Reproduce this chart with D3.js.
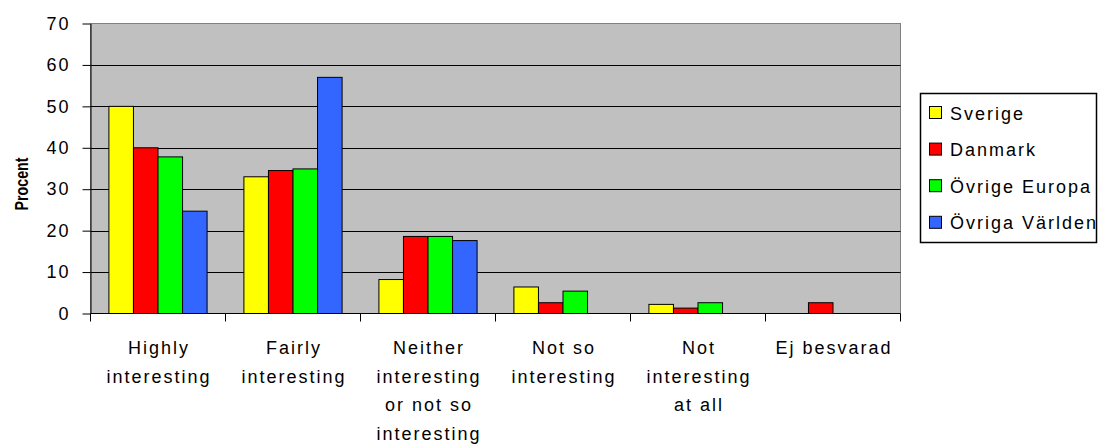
<!DOCTYPE html>
<html>
<head>
<meta charset="utf-8">
<script src="https://cdn.jsdelivr.net/npm/d3@7"></script>
<style>
  body { margin: 0; background: #fff; }
  svg { display: block; font-family: "Liberation Sans", Arial, sans-serif; }
</style>
</head>
<body>
<svg id="chart"></svg>
<script>
// chart data
const categories = [
  ['Highly', 'interesting'],
  ['Fairly', 'interesting'],
  ['Neither', 'interesting', 'or not so', 'interesting'],
  ['Not so', 'interesting'],
  ['Not', 'interesting', 'at all'],
  ['Ej besvarad']
];
const seriesNames = ['Sverige', 'Danmark', 'Övrige Europa', 'Övriga Världen'];
const seriesColors = ['#ffff00', '#ff0000', '#00ff00', '#3366ff'];
const sverige = [50, 33, 8.2, 6.4, 2.2, 0];
const danmark = [40, 34.5, 18.6, 2.6, 1.3, 2.6];
const ovrigeEuropa = [37.8, 34.9, 18.6, 5.4, 2.6, 0];
const ovrigaVarlden = [24.7, 57, 17.6, 0, 0, 0];
const yTicks = [0, 10, 20, 30, 40, 50, 60, 70];

const seriesValues = [sverige, danmark, ovrigeEuropa, ovrigaVarlden];

const width = 1098, height = 445;
const plot = { left: 90.5, right: 900.5, top: 23.5, bottom: 313.5 };

const svg = d3.select('#chart').attr('width', width).attr('height', height);

const x = d3.scaleBand()
  .domain(d3.range(categories.length))
  .range([plot.left, plot.right])
  .padding(0);

// gap width 150% -> 0.75 bar on each side
const xs = d3.scaleBand()
  .domain(d3.range(seriesNames.length))
  .range([0, x.bandwidth()])
  .paddingInner(0)
  .paddingOuter(0.75);

const y = d3.scaleLinear().domain([0, 70]).range([plot.bottom, plot.top]);

// plot background
svg.append('rect')
  .attr('x', plot.left).attr('y', plot.top)
  .attr('width', plot.right - plot.left).attr('height', plot.bottom - plot.top)
  .attr('fill', '#c0c0c0')
  .attr('stroke', '#808080')
  .attr('stroke-width', 1);

// gridlines
svg.append('g')
  .selectAll('line')
  .data(yTicks.filter(d => d > 0 && d < 70))
  .enter().append('line')
  .attr('x1', plot.left).attr('x2', plot.right)
  .attr('y1', d => Math.round(y(d)) + 0.5).attr('y2', d => Math.round(y(d)) + 0.5)
  .attr('stroke', '#000');

// bars
const groups = svg.append('g')
  .selectAll('g')
  .data(seriesValues)
  .enter().append('g')
  .attr('fill', (d, i) => seriesColors[i]);

groups.each(function (vals, si) {
  d3.select(this).selectAll('rect')
    .data(vals.map((v, ci) => ({ v, ci })).filter(d => d.v > 0))
    .enter().append('rect')
    .attr('x', d => x(d.ci) + xs(si))
    .attr('y', d => y(d.v))
    .attr('width', xs.bandwidth())
    .attr('height', d => y(0) - y(d.v))
    .attr('stroke', '#000')
    .attr('stroke-width', 1);
});

// y axis
const yAxis = svg.append('g')
  .attr('transform', `translate(${plot.left},0)`)
  .call(d3.axisLeft(y).tickValues(yTicks).tickSize(8).tickPadding(12).tickSizeOuter(0));
yAxis.select('.domain').attr('stroke', '#000');
yAxis.selectAll('text')
  .attr('font-size', 18)
  .attr('letter-spacing', 2)
  .attr('fill', '#000')
  .attr('font-family', '"Liberation Sans", Arial, sans-serif');

// x axis
const xTickPos = d3.range(categories.length + 1).map(i => plot.left + i * x.step());
svg.append('line')
  .attr('x1', plot.left).attr('x2', plot.right)
  .attr('y1', plot.bottom).attr('y2', plot.bottom)
  .attr('stroke', '#000');
svg.append('g')
  .selectAll('line')
  .data(xTickPos)
  .enter().append('line')
  .attr('x1', d => d).attr('x2', d => d)
  .attr('y1', plot.bottom).attr('y2', plot.bottom + 8)
  .attr('stroke', '#000');

// category labels
const labels = svg.append('g')
  .selectAll('text')
  .data(categories)
  .enter().append('text')
  .attr('text-anchor', 'middle')
  .attr('font-size', 18)
  .attr('letter-spacing', 2)
  .attr('fill', '#000');
labels.each(function (lines, ci) {
  d3.select(this).selectAll('tspan')
    .data(lines)
    .enter().append('tspan')
    .attr('x', x(ci) + x.bandwidth() / 2 + 1)
    .attr('y', (d, i) => 354 + i * 28.7)
    .text(d => d);
});

// y axis title
svg.append('text')
  .attr('transform', 'translate(28,184) rotate(-90)')
  .attr('text-anchor', 'middle')
  .attr('font-size', 19)
  .attr('font-weight', 'bold')
  .attr('textLength', 53)
  .attr('lengthAdjust', 'spacingAndGlyphs')
  .text('Procent');

// legend
const legend = svg.append('g');
legend.append('rect')
  .attr('x', 920.5).attr('y', 93.5)
  .attr('width', 176).attr('height', 149)
  .attr('fill', '#fff')
  .attr('stroke', '#000')
  .attr('stroke-width', 1.5);
const items = legend.selectAll('g.item')
  .data(seriesNames)
  .enter().append('g')
  .attr('class', 'item')
  .attr('transform', (d, i) => `translate(0,${113 + i * 36.6})`);
items.append('rect')
  .attr('x', 929.5).attr('y', -6.5)
  .attr('width', 12).attr('height', 12)
  .attr('fill', (d, i) => seriesColors[i])
  .attr('stroke', '#000');
items.append('text')
  .attr('x', 950).attr('y', 6.5)
  .attr('font-size', 18)
  .attr('letter-spacing', 2)
  .text(d => d);
</script>
</body>
</html>
